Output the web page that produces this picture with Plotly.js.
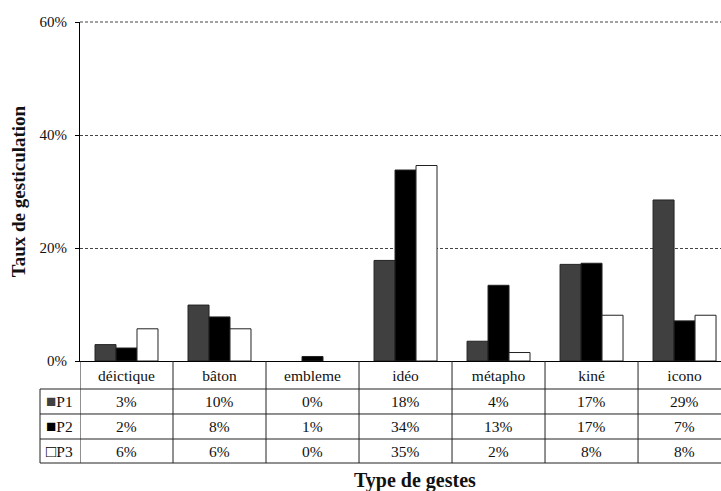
<!DOCTYPE html>
<html>
<head>
<meta charset="utf-8">
<script src="https://cdn.plot.ly/plotly-3.0.1.min.js"></script>
<style>html,body{margin:0;padding:0;background:#fff;}#chart{width:721px;height:491px;}</style>
</head>
<body>
<div id="chart"></div>
<script>
const categories = ['déictique', 'bâton', 'embleme', 'idéo', 'métapho', 'kiné', 'icono'];
const seriesNames = ['P1', 'P2', 'P3'];
const p1 = [2.9, 9.9, 0, 17.8, 3.5, 17.1, 28.5];
const p2 = [2.3, 7.8, 0.8, 33.8, 13.4, 17.3, 7.1];
const p3 = [5.7, 5.7, 0, 34.6, 1.5, 8.1, 8.1];
const yTicks = [0, 20, 40, 60];

const series = [p1, p2, p3];
const fills = ['#404040', '#000000', '#ffffff'];
const keyGlyph = ['■', '■', '□'];
const FONT = '"Liberation Serif", "Times New Roman", serif';

const traces = series.map((vals, i) => ({
  type: 'bar',
  name: seriesNames[i],
  x: categories,
  y: vals,
  marker: {color: fills[i], line: {color: '#222', width: vals.map(v => v === 0 ? 0 : 1)}},
  hoverinfo: 'skip'
}));

// table geometry (paper coordinates, plot area y: 0 bottom, 1 top)
const rowLines = [-0.0826, -0.1563, -0.2301, -0.3009];
const rowCenters = [-0.0428, -0.1195, -0.1932, -0.2655];
const legendLeft = -0.0624;

const shapes = [];
// top gridline (at the top of the y range, drawn as a layout line because it sits on the plot edge)
shapes.push({type: 'line', xref: 'paper', yref: 'paper', x0: 0, x1: 1, y0: 1, y1: 1,
  line: {color: '#444', width: 1, dash: '3px,2px'}, layer: 'below'});
for (let i = 0; i < categories.length; i++) {
  shapes.push({type: 'line', xref: 'x', yref: 'paper', x0: i - 0.5, x1: i - 0.5,
    y0: rowLines[3], y1: 0, line: {color: '#222', width: 1}});
}
for (let r = 0; r < rowLines.length; r++) {
  shapes.push({type: 'line', xref: 'paper', yref: 'paper', x0: legendLeft, x1: 1.05,
    y0: rowLines[r], y1: rowLines[r], line: {color: '#222', width: 1}});
}
shapes.push({type: 'line', xref: 'paper', yref: 'paper', x0: legendLeft, x1: legendLeft,
  y0: rowLines[3], y1: rowLines[0], line: {color: '#222', width: 1}});

const annotations = [];
series.forEach((vals, s) => {
  vals.forEach((v, i) => {
    annotations.push({xref: 'x', yref: 'paper', x: categories[i], y: rowCenters[s + 1],
      text: Math.round(v) + '%', showarrow: false, xanchor: 'center', yanchor: 'middle',
      font: {family: FONT, size: 15.5, color: '#111'}});
  });
  annotations.push({xref: 'paper', yref: 'paper', x: -0.0315, y: rowCenters[s + 1],
    text: '<span style="color:' + (s === 2 ? '#000' : fills[s]) + ';font-size:17px">' + keyGlyph[s] + '</span>' + seriesNames[s],
    showarrow: false, xanchor: 'center', yanchor: 'middle',
    font: {family: FONT, size: 15.5, color: '#111'}});
});
annotations.push({xref: 'paper', yref: 'paper', x: 0.523, y: -0.352, text: '<b>Type de gestes</b>',
  showarrow: false, xanchor: 'center', yanchor: 'middle',
  font: {family: FONT, size: 20, color: '#111'}});

const layout = {
  width: 721, height: 491,
  margin: {l: 80, r: 0, t: 22, b: 130, pad: 0},
  paper_bgcolor: '#fff', plot_bgcolor: '#fff',
  showlegend: false,
  barmode: 'group', bargap: 0.323, bargroupgap: 0,
  font: {family: FONT, color: '#111'},
  xaxis: {
    type: 'category', range: [-0.5, 6.392], fixedrange: true,
    showline: true, linecolor: '#000', linewidth: 1,
    showgrid: false, zeroline: false, ticks: '',
    tickfont: {family: FONT, size: 15.5, color: '#111'},
    ticklabelstandoff: 0
  },
  yaxis: {
    range: [0, 60], tickvals: yTicks, ticktext: yTicks.map(v => v + '%'),
    showline: true, linecolor: '#000', linewidth: 1,
    ticks: 'outside', ticklen: 4, tickcolor: '#000',
    showgrid: true, gridcolor: '#444', gridwidth: 1, griddash: '3px,2px',
    zeroline: false,
    tickfont: {family: FONT, size: 15, color: '#111'},
    ticklabelstandoff: 5,
    title: {text: '<b>Taux de gesticulation</b>', font: {family: FONT, size: 19, color: '#111'}, standoff: 8},
    automargin: false
  },
  shapes: shapes,
  annotations: annotations
};

Plotly.newPlot('chart', traces, layout, {staticPlot: true, displayModeBar: false});
</script>
</body>
</html>
